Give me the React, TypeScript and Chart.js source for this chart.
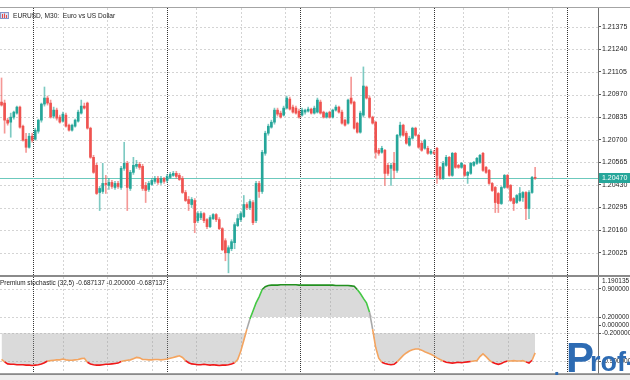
import React, { useEffect, useRef } from 'react';
import { Chart, registerables } from 'chart.js';

Chart.register(...registerables);

// ---------- data ----------
const SLOTS = 195; // bar slots across the visible plot (incl. empty future space)

const opens = [
  1.20925, 1.20919, 1.20817, 1.20805, 1.20835, 1.20859, 1.20895, 1.20781, 1.20703, 1.20655,
  1.20721, 1.20703, 1.20751, 1.20817, 1.20913, 1.20949, 1.20919, 1.20841, 1.20877, 1.20835,
  1.20811, 1.20847, 1.20787, 1.20757, 1.20781, 1.20811, 1.20859, 1.20901, 1.20919, 1.20769,
  1.20595, 1.20547, 1.20385, 1.20391, 1.20439, 1.20427, 1.20445, 1.20415, 1.20439, 1.20415,
  1.20529, 1.20559, 1.20409, 1.20505, 1.20541, 1.20553, 1.20541, 1.20427, 1.20403, 1.20433,
  1.20451, 1.20469, 1.20445, 1.20469, 1.20457, 1.20475, 1.20487, 1.20499, 1.20487, 1.20469,
  1.20385, 1.20343, 1.20313, 1.20337, 1.20217, 1.20235, 1.20259, 1.20223, 1.20181, 1.20229,
  1.20253, 1.20223, 1.20169, 1.20097, 1.20025, 1.20049, 1.20085, 1.20187, 1.20223, 1.20241,
  1.20313, 1.20295, 1.20325, 1.20217, 1.20439, 1.20391, 1.20619, 1.20739, 1.20775, 1.20805,
  1.20877, 1.20859, 1.20847, 1.20889, 1.20943, 1.20895, 1.20889, 1.20871, 1.20847, 1.20865,
  1.20871, 1.20883, 1.20859, 1.20865, 1.20925, 1.20865, 1.20835, 1.20865, 1.20835, 1.20877,
  1.20895, 1.20865, 1.20817, 1.20799, 1.20949, 1.20925, 1.20799, 1.20745, 1.20847, 1.21015,
  1.20949, 1.20835, 1.20805, 1.20637, 1.20625, 1.20637, 1.20547, 1.20529, 1.20559, 1.20517,
  1.20727, 1.20787, 1.20739, 1.20667, 1.20709, 1.20769, 1.20727, 1.20679, 1.20649, 1.20649,
  1.20619, 1.20625, 1.20649, 1.20535, 1.20469, 1.20547, 1.20595, 1.20487, 1.20619, 1.20547,
  1.20535, 1.20547, 1.20487, 1.20499, 1.20547, 1.20559, 1.20565, 1.20619, 1.20535, 1.20517,
  1.20439, 1.20415, 1.20379, 1.20319, 1.20415, 1.20487, 1.20427, 1.20349, 1.20325, 1.20337,
  1.20355, 1.20385, 1.20289, 1.20385, 1.20475,
];

const highs = [
  1.21069, 1.20937, 1.20829, 1.20859, 1.20871, 1.20901, 1.20901, 1.20787, 1.20739, 1.20739,
  1.20739, 1.20769, 1.20823, 1.20919, 1.21015, 1.20961, 1.20937, 1.20895, 1.20889, 1.20847,
  1.20865, 1.20859, 1.20793, 1.20793, 1.20823, 1.20877, 1.20937, 1.20919, 1.20925, 1.20775,
  1.20607, 1.20559, 1.20421, 1.20559, 1.20487, 1.20469, 1.20457, 1.20451, 1.20451, 1.20541,
  1.20685, 1.20571, 1.20517, 1.20595, 1.20577, 1.20565, 1.20553, 1.20445, 1.20451, 1.20469,
  1.20481, 1.20481, 1.20481, 1.20475, 1.20493, 1.20505, 1.20511, 1.20511, 1.20499, 1.20481,
  1.20397, 1.20361, 1.20355, 1.20349, 1.20271, 1.20271, 1.20265, 1.20229, 1.20247, 1.20259,
  1.20259, 1.20235, 1.20175, 1.20109, 1.20067, 1.20103, 1.20205, 1.20253, 1.20271, 1.20367,
  1.20325, 1.20343, 1.20337, 1.20451, 1.20451, 1.20637, 1.20751, 1.20793, 1.20817, 1.20889,
  1.20889, 1.20871, 1.20901, 1.20961, 1.20955, 1.20907, 1.20901, 1.20883, 1.20889, 1.20883,
  1.20895, 1.20889, 1.20901, 1.20949, 1.20937, 1.20871, 1.20865, 1.20871, 1.20883, 1.20907,
  1.20901, 1.20877, 1.20823, 1.20943, 1.21075, 1.20931, 1.20805, 1.20871, 1.21135, 1.21021,
  1.20961, 1.20841, 1.20811, 1.20649, 1.20661, 1.20643, 1.20559, 1.20559, 1.20625, 1.20733,
  1.20805, 1.20793, 1.20751, 1.20721, 1.20775, 1.20775, 1.20733, 1.20691, 1.20703, 1.20661,
  1.20643, 1.20637, 1.20655, 1.20541, 1.20571, 1.20607, 1.20601, 1.20625, 1.20625, 1.20553,
  1.20565, 1.20553, 1.20511, 1.20565, 1.20571, 1.20595, 1.20613, 1.20625, 1.20541, 1.20523,
  1.20445, 1.20421, 1.20385, 1.20421, 1.20493, 1.20493, 1.20433, 1.20355, 1.20373, 1.20415,
  1.20391, 1.20391, 1.20397, 1.20481, 1.20535,
];

const lows = [
  1.20901, 1.20739, 1.20787, 1.20715, 1.20823, 1.20853, 1.20769, 1.20691, 1.20625, 1.20649,
  1.20685, 1.20697, 1.20739, 1.20805, 1.20901, 1.20907, 1.20829, 1.20829, 1.20817, 1.20799,
  1.20805, 1.20775, 1.20751, 1.20751, 1.20775, 1.20805, 1.20853, 1.20883, 1.20763, 1.20589,
  1.20499, 1.20373, 1.20277, 1.20379, 1.20379, 1.20403, 1.20409, 1.20403, 1.20409, 1.20403,
  1.20517, 1.20277, 1.20397, 1.20493, 1.20529, 1.20523, 1.20397, 1.20325, 1.20391, 1.20427,
  1.20439, 1.20433, 1.20433, 1.20439, 1.20445, 1.20469, 1.20481, 1.20469, 1.20457, 1.20379,
  1.20331, 1.20277, 1.20295, 1.20145, 1.20205, 1.20223, 1.20205, 1.20169, 1.20175, 1.20223,
  1.20211, 1.20163, 1.20037, 1.19977, 1.19905, 1.20037, 1.20049, 1.20181, 1.20211, 1.20235,
  1.20283, 1.20283, 1.20193, 1.20205, 1.20355, 1.20379, 1.20607, 1.20727, 1.20769, 1.20793,
  1.20841, 1.20829, 1.20841, 1.20883, 1.20877, 1.20859, 1.20853, 1.20829, 1.20841, 1.20853,
  1.20865, 1.20853, 1.20853, 1.20859, 1.20853, 1.20829, 1.20829, 1.20829, 1.20829, 1.20871,
  1.20859, 1.20793, 1.20781, 1.20793, 1.20913, 1.20763, 1.20739, 1.20739, 1.20835, 1.20943,
  1.20829, 1.20793, 1.20589, 1.20607, 1.20619, 1.20427, 1.20487, 1.20427, 1.20469, 1.20505,
  1.20715, 1.20721, 1.20673, 1.20661, 1.20703, 1.20721, 1.20649, 1.20631, 1.20643, 1.20613,
  1.20613, 1.20613, 1.20439, 1.20463, 1.20463, 1.20541, 1.20481, 1.20481, 1.20529, 1.20529,
  1.20529, 1.20481, 1.20439, 1.20493, 1.20541, 1.20553, 1.20559, 1.20511, 1.20499, 1.20433,
  1.20391, 1.20265, 1.20265, 1.20313, 1.20409, 1.20409, 1.20331, 1.20277, 1.20319, 1.20331,
  1.20331, 1.20223, 1.20229, 1.20379, 1.20463,
];

const closes = [
  1.20907, 1.20817, 1.20799, 1.20835, 1.20865, 1.20895, 1.20775, 1.20697, 1.20655, 1.20721,
  1.20697, 1.20757, 1.20817, 1.20913, 1.20949, 1.20919, 1.20835, 1.20877, 1.20829, 1.20805,
  1.20853, 1.20781, 1.20757, 1.20787, 1.20817, 1.20865, 1.20901, 1.20889, 1.20769, 1.20595,
  1.20505, 1.20379, 1.20409, 1.20439, 1.20433, 1.20445, 1.20421, 1.20439, 1.20421, 1.20529,
  1.20559, 1.20415, 1.20505, 1.20547, 1.20553, 1.20535, 1.20409, 1.20397, 1.20439, 1.20457,
  1.20469, 1.20445, 1.20469, 1.20451, 1.20481, 1.20493, 1.20499, 1.20481, 1.20463, 1.20385,
  1.20337, 1.20319, 1.20343, 1.20205, 1.20259, 1.20259, 1.20217, 1.20181, 1.20235, 1.20253,
  1.20223, 1.20169, 1.20043, 1.20025, 1.20055, 1.20091, 1.20193, 1.20229, 1.20259, 1.20313,
  1.20295, 1.20331, 1.20205, 1.20439, 1.20391, 1.20625, 1.20739, 1.20781, 1.20805, 1.20877,
  1.20853, 1.20835, 1.20889, 1.20949, 1.20883, 1.20865, 1.20859, 1.20835, 1.20877, 1.20877,
  1.20883, 1.20859, 1.20889, 1.20937, 1.20859, 1.20835, 1.20859, 1.20835, 1.20877, 1.20895,
  1.20865, 1.20799, 1.20787, 1.20937, 1.20919, 1.20769, 1.20745, 1.20859, 1.21021, 1.20949,
  1.20835, 1.20799, 1.20625, 1.20619, 1.20649, 1.20499, 1.20499, 1.20547, 1.20517, 1.20727,
  1.20787, 1.20727, 1.20679, 1.20709, 1.20769, 1.20727, 1.20655, 1.20637, 1.20697, 1.20619,
  1.20631, 1.20619, 1.20487, 1.20469, 1.20559, 1.20595, 1.20487, 1.20619, 1.20535, 1.20535,
  1.20559, 1.20487, 1.20505, 1.20559, 1.20565, 1.20589, 1.20607, 1.20517, 1.20505, 1.20439,
  1.20397, 1.20325, 1.20319, 1.20415, 1.20487, 1.20415, 1.20337, 1.20319, 1.20367, 1.20379,
  1.20385, 1.20289, 1.20385, 1.20475, 1.20470,
];

const stochValues = [
  -0.85, -0.91, -0.96, -0.97, -0.97, -0.98, -0.98, -0.98, -0.99, -0.99,
  -1.0, -0.99, -0.98, -0.96, -0.93, -0.89, -0.88, -0.87, -0.86, -0.86,
  -0.84, -0.86, -0.87, -0.87, -0.86, -0.85, -0.83, -0.82, -0.92, -0.96,
  -0.98, -0.99, -0.99, -0.98, -0.97, -0.97, -0.96, -0.95, -0.94, -0.9,
  -0.88, -0.87, -0.86, -0.83, -0.8, -0.81, -0.85, -0.85, -0.86, -0.86,
  -0.85, -0.85, -0.86, -0.85, -0.84, -0.82, -0.8, -0.78, -0.76, -0.8,
  -0.88, -0.93, -0.96, -0.97, -0.98, -0.98, -0.97, -0.98, -0.99, -0.98,
  -0.99, -1.0, -0.99, -0.99, -0.98, -0.96, -0.93, -0.85, -0.65, -0.38,
  -0.1, 0.15, 0.35, 0.55, 0.7, 0.88, 0.95, 0.98, 0.99, 0.99,
  0.99, 1.0, 1.0, 1.0, 1.0, 1.0, 1.0, 0.99, 0.99, 0.99,
  0.99, 0.99, 0.99, 0.99, 0.99, 0.99, 0.99, 0.99, 0.99, 0.98,
  0.98, 0.98, 0.98, 0.98, 0.97, 0.96, 0.88, 0.78, 0.66, 0.55,
  0.32, -0.1, -0.55, -0.82, -0.92, -0.95, -0.97, -0.98, -0.97, -0.91,
  -0.83, -0.75, -0.69, -0.64, -0.61, -0.59, -0.59, -0.62, -0.66, -0.69,
  -0.72, -0.76, -0.81, -0.85, -0.89, -0.92, -0.93, -0.94, -0.93, -0.92,
  -0.93, -0.92, -0.91, -0.9, -0.89, -0.88, -0.78, -0.71, -0.78, -0.86,
  -0.92, -0.95, -0.97, -0.95, -0.91, -0.89, -0.89, -0.88, -0.89, -0.89,
  -0.88, -0.91, -0.94, -0.87, -0.687137,
];

const priceTicks = [1.21375, 1.2124, 1.21105, 1.2097, 1.20835, 1.207, 1.20565, 1.2043, 1.20295, 1.2016, 1.20025];
const PRICE_MIN = 1.19892;
const PRICE_MAX = 1.21487;
const currentPrice = 1.2047;

const stochTicks = [0.9, 0.2, 0, -0.2, -0.9];
const stochLevels = [0.9, 0.2, -0.2, -0.9];
const STOCH_MAX = 1.190135;
const UPPER = 0.2;
const LOWER = -0.2;

// period separators (days) and time-grid marks, in bar-slot units
const daySeparators = [10.4, 53.9, 97.4, 140.9, 184.4];
const timeGrid = [20, 34.5, 49, 63.5, 78, 92.5, 107, 121.5, 136, 150.5, 165, 179.5];

const title = 'EURUSD, M30:  Euro vs US Dollar';
const indicatorLabel = 'Premium stochastic (32,5) -0.687137 -0.200000 -0.687137';

// ---------- styles ----------
const FONT = '"Liberation Sans", Arial, sans-serif';
const BULL = '#26a69a';
const BEAR = '#ef5350';
const BULL_WICK = 'rgba(38,166,154,0.6)';
const BEAR_WICK = 'rgba(239,83,80,0.6)';
const PRICE_LINE = '#6cc9bd';
const TAG = '#26a69a';

function stochColor(v: number) {
  if (v >= 0.9) return '#22901f';
  if (v >= 0.2) return '#45c845';
  if (v > -0.2) return '#a8a8a8';
  if (v > -0.9) return '#f4a45f';
  return '#f01818';
}

function drawGrid(chart: any, levels: number[]) {
  const { ctx, chartArea, scales } = chart;
  const { left, right, top, bottom } = chartArea;
  const x = scales.x;
  const y = scales.y;
  ctx.save();
  ctx.lineWidth = 1;
  ctx.strokeStyle = '#d4d4d4';
  ctx.setLineDash([2, 2]);
  ctx.beginPath();
  for (const v of levels) {
    const py = Math.round(y.getPixelForValue(v)) + 0.5;
    ctx.moveTo(left, py);
    ctx.lineTo(right, py);
  }
  for (const g of timeGrid) {
    const px = Math.round(x.getPixelForValue(g)) + 0.5;
    ctx.moveTo(px, top);
    ctx.lineTo(px, bottom);
  }
  ctx.stroke();
  ctx.strokeStyle = '#333333';
  ctx.setLineDash([1, 1]);
  ctx.beginPath();
  for (const d of daySeparators) {
    const px = Math.round(x.getPixelForValue(d)) + 0.5;
    ctx.moveTo(px, top);
    ctx.lineTo(px, bottom);
  }
  ctx.stroke();
  ctx.restore();
}

const mainPlugin = {
  id: 'mainDecor',
  beforeDatasetsDraw(chart: any) {
    drawGrid(chart, priceTicks);
    const { ctx, chartArea } = chart;
    const py = Math.round(chart.scales.y.getPixelForValue(currentPrice)) + 0.5;
    ctx.save();
    ctx.strokeStyle = PRICE_LINE;
    ctx.lineWidth = 1;
    ctx.beginPath();
    ctx.moveTo(chartArea.left, py);
    ctx.lineTo(chartArea.right, py);
    ctx.stroke();
    ctx.restore();
  },
  afterDraw(chart: any) {
    const { ctx, chartArea } = chart;
    const { right, top, bottom } = chartArea;
    ctx.save();
    ctx.fillStyle = '#a4a4a4';
    ctx.fillRect(0, top - 1, 630, 1);
    ctx.fillStyle = '#8a8a8a';
    ctx.fillRect(0, bottom, 630, 2);
    // current price tag
    const py = Math.round(chart.scales.y.getPixelForValue(currentPrice));
    ctx.fillStyle = TAG;
    ctx.fillRect(right + 1, py - 5, 31, 10);
    ctx.fillStyle = '#ffffff';
    ctx.font = `7px ${FONT}`;
    ctx.textBaseline = 'middle';
    ctx.textAlign = 'left';
    ctx.fillText(currentPrice.toFixed(5), right + 4, py + 0.5);
    // symbol icon
    ctx.fillStyle = '#d9e1f4';
    ctx.fillRect(0, 12, 9, 7);
    ctx.strokeStyle = '#8797c9';
    ctx.lineWidth = 1;
    ctx.strokeRect(0.5, 12.5, 8, 6);
    ctx.fillStyle = '#e24a4a';
    ctx.fillRect(2, 14, 1, 4);
    ctx.fillRect(4, 13.5, 1, 4.5);
    ctx.fillRect(6, 15, 1, 3);
    // title
    ctx.fillStyle = '#1c1c1c';
    ctx.font = `6.6px ${FONT}`;
    ctx.fillText(title, 13, 16);
    ctx.restore();
  },
};

const subPlugin = {
  id: 'subDecor',
  beforeDatasetsDraw(chart: any) {
    drawGrid(chart, stochLevels);
  },
  afterDraw(chart: any) {
    const { ctx, chartArea } = chart;
    const { right, top, bottom } = chartArea;
    ctx.save();
    ctx.fillStyle = '#1c1c1c';
    ctx.font = `6.4px ${FONT}`;
    ctx.textAlign = 'left';
    ctx.textBaseline = 'middle';
    ctx.fillText(indicatorLabel, 0, top + 6.5);
    ctx.font = `6.5px ${FONT}`;
    ctx.textBaseline = 'top';
    ctx.fillText(chart.scales.y.max.toFixed(6), right + 4, top + 1);
    ctx.fillStyle = '#8a8a8a';
    ctx.fillRect(0, bottom, 630, 2);
    ctx.fillStyle = '#eeeeee';
    ctx.fillRect(0, bottom + 2, 630, 10);
    ctx.restore();
  },
};

export default function App() {
  const mainRef = useRef<HTMLCanvasElement>(null);
  const subRef = useRef<HTMLCanvasElement>(null);

  useEffect(() => {
    const labels = Array.from({ length: SLOTS }, (_, i) => String(i));
    const up = opens.map((o, i) => closes[i] >= o);

    const main = new Chart(mainRef.current as HTMLCanvasElement, {
      type: 'bar',
      data: {
        labels,
        datasets: [
          {
            data: lows.map((l, i) => [l, highs[i]]),
            backgroundColor: up.map((u) => (u ? BULL_WICK : BEAR_WICK)),
            barThickness: 1,
            grouped: false,
            borderWidth: 0,
            order: 2,
          },
          {
            data: opens.map((o, i) => [o, closes[i]]),
            backgroundColor: up.map((u) => (u ? BULL : BEAR)),
            barThickness: 2,
            minBarLength: 1,
            grouped: false,
            borderWidth: 0,
            order: 1,
          },
        ] as any,
      },
      options: {
        animation: false,
        responsive: false,
        devicePixelRatio: 1,
        events: [],
        layout: { padding: { top: 8, bottom: 2, left: 0, right: 0 } },
        plugins: { legend: { display: false }, tooltip: { enabled: false } },
        scales: {
          x: { type: 'category', display: false, offset: true },
          y: {
            position: 'right',
            min: PRICE_MIN,
            max: PRICE_MAX,
            afterBuildTicks: (s: any) => {
              s.ticks = priceTicks.map((v) => ({ value: v }));
            },
            afterFit: (s: any) => {
              s.width = 32;
              s.paddingTop = 0;
              s.paddingBottom = 0;
            },
            ticks: {
              autoSkip: false,
              padding: 1,
              color: '#1c1c1c',
              font: { family: FONT, size: 7 },
              callback: (v: any) => Number(v).toFixed(5),
            },
            grid: { drawOnChartArea: false, drawTicks: true, tickLength: 3, tickColor: '#555' },
            border: { display: true, color: '#707070', width: 1 },
          },
        },
      } as any,
      plugins: [mainPlugin],
    });

    const sub = new Chart(subRef.current as HTMLCanvasElement, {
      type: 'line',
      data: {
        labels,
        datasets: [
          {
            data: stochValues,
            borderColor: '#f4a45f',
            borderWidth: 1.6,
            pointRadius: 0,
            fill: false,
            tension: 0,
            order: 0,
            segment: {
              borderColor: (c: any) => stochColor((c.p0.parsed.y + c.p1.parsed.y) / 2),
            },
          },
          {
            data: stochValues.map((v) => Math.max(v, UPPER)),
            borderColor: 'rgba(0,0,0,0)',
            borderWidth: 0,
            pointRadius: 0,
            fill: { value: UPPER },
            backgroundColor: 'rgba(150,150,150,0.35)',
            order: 1,
          },
          {
            data: stochValues.map((v) => Math.min(v, LOWER)),
            borderColor: 'rgba(0,0,0,0)',
            borderWidth: 0,
            pointRadius: 0,
            fill: { value: LOWER },
            backgroundColor: 'rgba(150,150,150,0.35)',
            order: 2,
          },
        ] as any,
      },
      options: {
        animation: false,
        responsive: false,
        devicePixelRatio: 1,
        events: [],
        layout: { padding: { top: 0, bottom: 6.8, left: 0, right: 0 } },
        plugins: { legend: { display: false }, tooltip: { enabled: false } },
        scales: {
          x: { type: 'category', display: false, offset: true },
          y: {
            position: 'right',
            min: -STOCH_MAX,
            max: STOCH_MAX,
            afterBuildTicks: (s: any) => {
              s.ticks = stochTicks.map((v) => ({ value: v }));
            },
            afterFit: (s: any) => {
              s.width = 32;
              s.paddingTop = 0;
              s.paddingBottom = 0;
            },
            ticks: {
              autoSkip: false,
              padding: 1,
              color: '#1c1c1c',
              font: { family: FONT, size: 6.5 },
              callback: (v: any) => Number(v).toFixed(6),
            },
            grid: { drawOnChartArea: false, drawTicks: true, tickLength: 3, tickColor: '#555' },
            border: { display: true, color: '#707070', width: 1 },
          },
        },
      } as any,
      plugins: [subPlugin],
    });

    return () => {
      main.destroy();
      sub.destroy();
    };
  }, []);

  return (
    <div
      style={{
        position: 'absolute',
        left: 0,
        top: 0,
        width: 630,
        height: 380,
        background: '#ffffff',
        overflow: 'hidden',
      }}
    >
      <canvas
        ref={mainRef}
        width={630}
        height={277}
        style={{ position: 'absolute', left: 0, top: 0, width: 630, height: 277 }}
      />
      <canvas
        ref={subRef}
        width={630}
        height={103}
        style={{ position: 'absolute', left: 0, top: 277, width: 630, height: 103 }}
      />
      <div
        style={{
          position: 'absolute',
          left: 552,
          top: 333,
          width: 78,
          height: 47,
          overflow: 'hidden',
          pointerEvents: 'none',
          fontFamily: FONT,
          fontWeight: 700,
          color: '#2d6bb3',
          whiteSpace: 'nowrap',
        }}
      >
        <span style={{ position: 'absolute', left: 2, top: 25, fontSize: 20, lineHeight: '20px' }}>.</span>
        <span style={{ position: 'absolute', left: 14, top: 4, fontSize: 42, lineHeight: '42px' }}>P</span>
        <span style={{ position: 'absolute', left: 38, top: 16, fontSize: 27, lineHeight: '27px' }}>rof-F</span>
      </div>
    </div>
  );
}
